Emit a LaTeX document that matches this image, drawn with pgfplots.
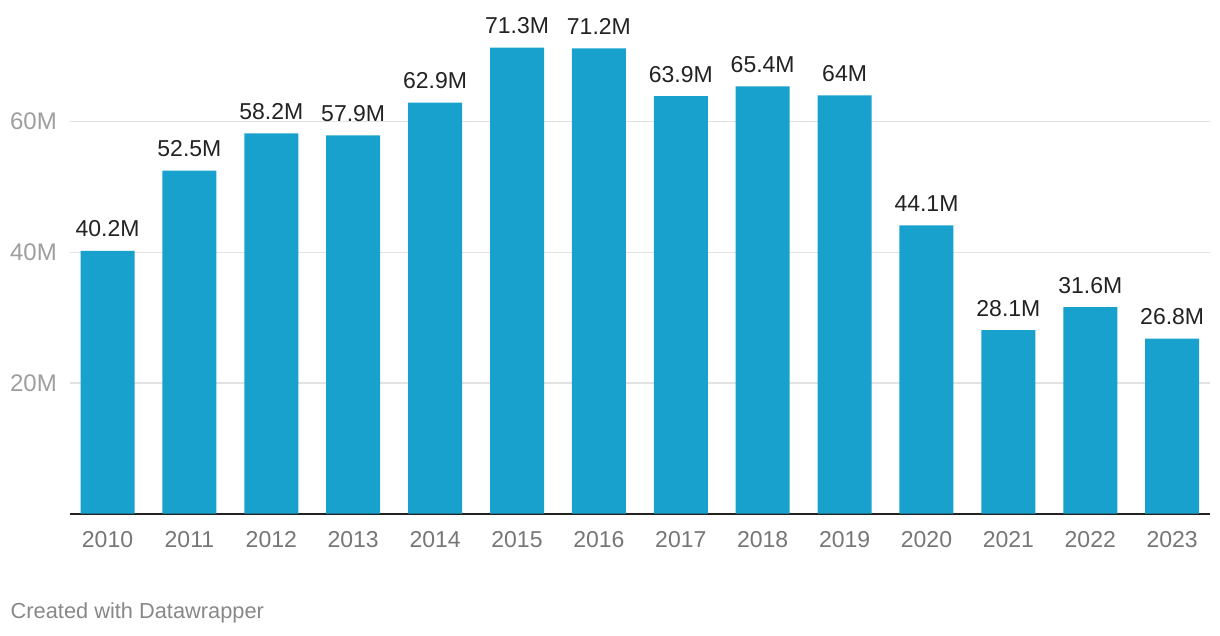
\documentclass[border=0pt]{standalone}
\usepackage{pgfplots}
\pgfplotsset{compat=1.18}
\usepackage{pgfplotstable}
\usepackage{fontspec}
\setmainfont{Liberation Sans}
\definecolor{barblue}{RGB}{24,161,205}
\definecolor{gridgray}{RGB}{226,226,226}
\definecolor{ylab}{RGB}{158,158,158}
\definecolor{xlab}{RGB}{118,118,118}
\definecolor{credit}{RGB}{136,136,136}
\definecolor{vallab}{RGB}{34,34,34}
\pgfplotstableread{
x val label
0 40.2 40.2M
1 52.5 52.5M
2 58.2 58.2M
3 57.9 57.9M
4 62.9 62.9M
5 71.3 71.3M
6 71.2 71.2M
7 63.9 63.9M
8 65.4 65.4M
9 64.0 64M
10 44.1 44.1M
11 28.1 28.1M
12 31.6 31.6M
13 26.8 26.8M
}\datatable
\begin{document}
\fontsize{22pt}{26pt}\selectfont
\begin{tikzpicture}
\path[use as bounding box] (0,0) rectangle (1220pt,636pt);
\begin{axis}[
  at={(70pt,122.3pt)}, anchor=south west,
  scale only axis, width=1140pt, height=513.7pt,
  xmin=-0.458, xmax=13.462, ymin=0, ymax=78.6,
  axis x line*=bottom, axis y line*=left,
  x axis line style={line width=2pt, color=vallab, -},
  y axis line style={draw=none},
  ybar, bar width=54pt,
  xtick=data,
  xticklabels={2010,2011,2012,2013,2014,2015,2016,2017,2018,2019,2020,2021,2022,2023},
  xticklabel style={anchor=base, yshift=-33.6pt, text=xlab, font=\fontsize{23pt}{27pt}\selectfont},
  ytick={20,40,60}, yticklabels={20M,40M,60M},
  yticklabel style={anchor=east, inner sep=0pt, xshift=-13pt, text=ylab, font=\fontsize{24pt}{28pt}\selectfont},
  major tick length=0pt,
  ymajorgrids, grid style={gridgray, line width=1.3pt},
  clip=false,
  nodes near coords,
  point meta=explicit symbolic,
  every node near coord/.append style={anchor=base, yshift=14pt, text=vallab, font=\fontsize{23pt}{27pt}\selectfont, inner sep=0pt},
]
\addplot[fill=barblue, draw=none] table[x=x, y=val, meta=label] {\datatable};
\end{axis}
\node[anchor=base west, text=credit, inner sep=0pt, font=\fontsize{21.8pt}{26pt}\selectfont] at (10.5pt,17pt) {Created with Datawrapper};
\end{tikzpicture}
\end{document}
